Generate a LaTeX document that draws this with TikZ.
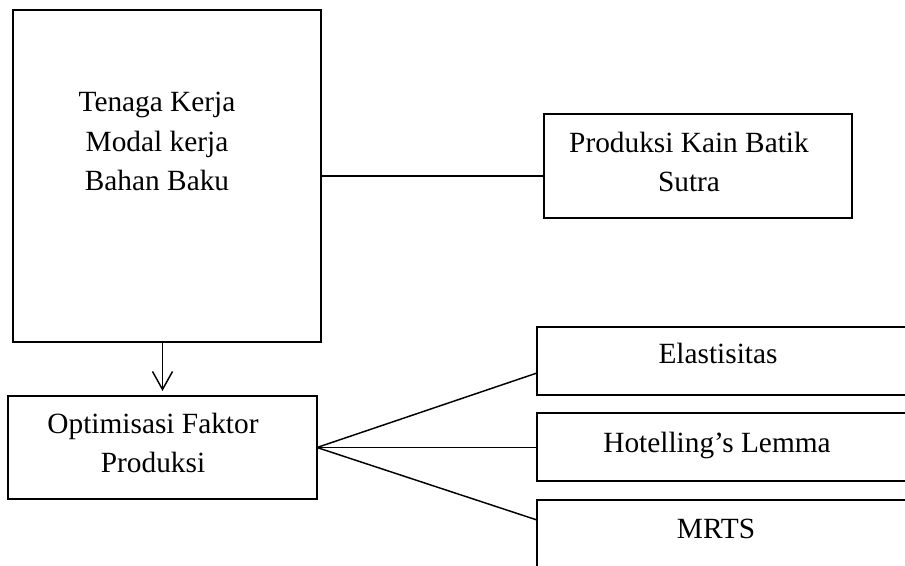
\documentclass[tikz,border=0pt]{standalone}
\usepackage{fontspec}
\setmainfont{Liberation Serif}
\usetikzlibrary{arrows.meta,fit}
\begin{document}
\begin{tikzpicture}[x=0.75pt,y=-0.75pt,
  box/.style={draw, line width=1.1pt, inner sep=0pt, outer sep=0pt},
  txt/.style={font=\fontsize{22}{29}\selectfont, inner sep=0pt, anchor=base},
  conn/.style={line width=1.1pt}]
\clip (0,0) rectangle (905,566);
\fill[white] (0,0) rectangle (905,566);
% boxes
\node[box, fit={(13,10) (321,342)}] (big) {};
\node[box, fit={(544,114) (852,218)}] (prod) {};
\node[box, fit={(8,396) (317,499)}] (opt) {};
\node[box, fit={(537,327) (915,395)}] (elas) {};
\node[box, fit={(537,413) (915,481)}] (hot) {};
\node[box, fit={(537,500) (915,600)}] (mrts) {};
% texts
\node[txt] (t1) at (157,112) {Tenaga Kerja};
\node[txt] (t2) at (157,151.5) {Modal kerja};
\node[txt] (t3) at (157,191) {Bahan Baku};
\node[txt] (p1) at (689,153) {Produksi Kain Batik};
\node[txt] (p2) at (689,192) {Sutra};
\node[txt] (o1) at (153,433) {Optimisasi Faktor};
\node[txt] (o2) at (153,472) {Produksi};
\node[txt] (e1) at (718,363) {Elastisitas};
\node[txt] (h1) at (717,452) {Hotelling’s Lemma};
\node[txt] (m1) at (716,538) {MRTS};
% connectors
\draw[conn] (big.east) -- (big.east -| prod.west);
\draw[conn, -{Straight Barb[length=13.5pt,width=15pt]}, shorten >=3.75pt] (big.south -| opt.north) -- (opt.north);
\draw[conn] (opt.east) -- ([yshift=16.5pt]elas.south west);
\draw[conn] (opt.east) -- (opt.east -| hot.west);
\draw[conn] (opt.east) -- ([yshift=-15pt]mrts.north west);
\end{tikzpicture}
\end{document}
